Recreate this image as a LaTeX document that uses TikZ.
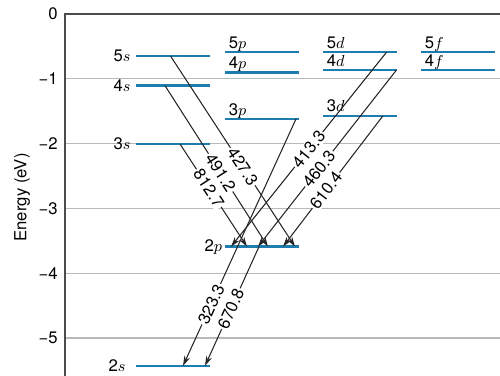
\documentclass[tikz,border=0pt]{standalone}
\usepackage{fontspec}
\setmainfont{TeX Gyre Heros}
\usepackage{xcolor}
\usetikzlibrary{arrows.meta, calc}
\definecolor{blulivello}{RGB}{30,125,175}

\begin{document}
\begin{tikzpicture}[x=1cm, y=1.296cm, font=\fontsize{9.5}{11}\selectfont,
    livello/.style={draw=blulivello, line width=1.4pt},
    transizione/.style={draw=black!85, line width=0.6pt, -{Stealth[length=2mm, width=1.2mm]}},
    lambda/.style={sloped, fill=white, inner sep=0.8pt}]
    \useasboundingbox (0,0.216) rectangle (10,-5.586);

    % Griglia e assi
    \foreach \E in {1,...,5} {
        \draw[gray!55, line width=0.7pt] (1.3,-\E) -- (10,-\E);
        \node[left, inner sep=4pt] (tick\E) at (1.3,-\E) {−\E};
    }
    \node[left, inner sep=4pt] (tick0) at (1.3,0) {0};
    \draw[black!70, line width=0.8pt] (10,0) -- (1.3,0) -- (1.3,-5.586);
    \node[rotate=90] (asse) at (0.44,-2.83) {Energy (eV)};

    % Livelli s (etichetta a sinistra)
    \foreach \nome/\E/\testo/\dx in {s5/-0.648/5/0, s4/-1.106/4/0, s3/-2.006/3/0, s2/-5.43/2/0.1} {
        \draw[livello] (2.72,\E) coordinate (\nome) -- ++(1.47,0);
        \node[left, inner sep=3pt, xshift=-\dx cm] (t\nome) at (\nome) {\testo$s$};
    }

    % Livelli p, d, f (etichetta sopra)
    \foreach \nome/\x/\E/\testo in {p5/4.5/-0.59/5$p$, p4/4.5/-0.90/4$p$, p3/4.5/-1.62/3$p$,
        d5/6.46/-0.59/5$d$, d4/6.46/-0.864/4$d$, d3/6.46/-1.57/3$d$,
        f5/8.42/-0.59/5$f$, f4/8.42/-0.864/4$f$} {
        \draw[livello] (\x,\E) coordinate (\nome) -- ++(1.47,0);
        \node[above right, inner sep=1pt, text depth=0pt, xshift=1pt, yshift=1pt] (t\nome) at (\nome) {\testo};
    }
    \draw[livello] (4.5,-3.59) coordinate (p2) -- ++(1.47,0);
    \node[left, inner sep=1.5pt] (tp2) at (p2) {2$p$};

    % Transizioni (lunghezze d'onda in nm)
    \foreach \da/\dx/\a/\ax/\lam/\p [count=\i] in {
        s3/0.88/p2/0.44/812.7/0.43,
        s4/0.58/p2/0.86/491.2/0.54,
        s5/0.69/p2/1.40/427.3/0.58,
        d5/1.27/p2/0.12/413.3/0.50,
        d4/1.47/p2/0.66/460.3/0.56,
        d3/1.20/p2/1.16/610.4/0.57,
        p3/1.42/s2/0.94/323.3/0.75,
        p2/0.68/s2/1.38/670.8/0.52} {
        \draw[transizione] ($(\da)+(\dx,0)$) -- node[lambda, pos=\p] (lam\i) {\lam} ($(\a)+(\ax,0)$);
    }
\end{tikzpicture}
\end{document}
